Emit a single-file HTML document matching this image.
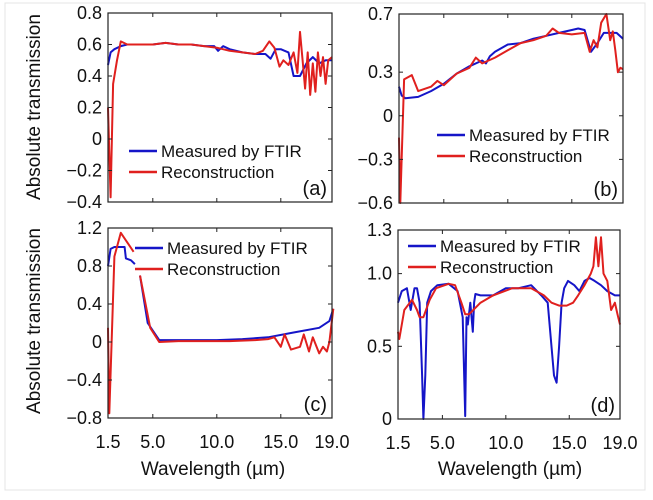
<!DOCTYPE html>
<html><head><meta charset="utf-8"><style>
body{margin:0;background:#fff;}
svg{display:block;font-family:"Liberation Sans",sans-serif;}
</style></head><body>
<svg id="fig" width="653" height="500" viewBox="0 0 653 500">
<rect x="5" y="3" width="640" height="487" fill="none" stroke="#e4e4e4"/>
</svg>
<script>
const xTicks=[1.5,5,10,15,19];
const xTickLabels=["1.5","5.0","10.0","15.0","19.0"];
// panel a
const aBlueX=[1.5,1.7,2,2.5,3,4,5,6,7,8,9,9.8,10.1,10.5,11,12,13,13.8,14.2,14.6,15,15.3,15.6,16,16.5,17,17.5,18,18.5,19];
const aBlueY=[0.47,0.55,0.57,0.59,0.60,0.60,0.60,0.61,0.60,0.60,0.59,0.59,0.56,0.59,0.57,0.55,0.54,0.54,0.51,0.57,0.57,0.56,0.55,0.40,0.40,0.48,0.52,0.48,0.50,0.50];
const aRedX=[1.5,1.7,1.9,2.2,2.5,3,4,5,6,7,8,9,10,11,12,13,13.6,14.1,14.5,14.9,15.2,15.6,16,16.3,16.5,16.7,16.9,17.1,17.3,17.5,17.7,17.9,18.1,18.3,18.5,18.7,19];
const aRedY=[0.2,-0.37,0.35,0.5,0.62,0.60,0.60,0.60,0.61,0.60,0.60,0.59,0.58,0.56,0.55,0.54,0.56,0.62,0.58,0.46,0.50,0.47,0.55,0.42,0.68,0.50,0.32,0.55,0.28,0.48,0.30,0.55,0.40,0.52,0.35,0.50,0.52];
// panel b
const bBlueX=[1.5,1.7,2,3,4,5,6,7,8,8.3,8.6,9,10,11,12,13,14,15,15.5,16,16.5,17,17.5,18,18.5,19];
const bBlueY=[0.2,0.14,0.12,0.13,0.17,0.22,0.29,0.34,0.38,0.36,0.41,0.44,0.49,0.50,0.53,0.55,0.57,0.59,0.60,0.59,0.44,0.50,0.57,0.57,0.57,0.53];
const bRedX=[1.5,1.6,1.9,2.5,3,4,4.5,5,6,7,7.5,8,9,10,11,12,13,13.5,14,15,16,16.4,16.7,17,17.3,17.7,18,18.2,18.4,18.6,18.8,19];
const bRedY=[-0.15,-0.6,0.25,0.28,0.17,0.2,0.24,0.21,0.29,0.33,0.4,0.36,0.4,0.45,0.5,0.52,0.55,0.6,0.57,0.56,0.57,0.44,0.52,0.47,0.64,0.7,0.52,0.58,0.45,0.3,0.33,0.32];
// panel c
const cBlueX=[1.5,1.7,2,2.8,2.9,3.3,3.6,null,4.0,4.6,5.5,8,10,12,14,16,18,18.8,19.1];
const cBlueY=[0.8,0.98,1.0,1.0,0.88,0.86,0.82,null,0.7,0.2,0.02,0.02,0.02,0.03,0.05,0.1,0.15,0.22,0.35];
const cRedX=[1.5,1.6,2,2.5,3,3.5,null,4.0,4.8,5.5,7,9,11,13,14,14.5,15,15.3,15.8,16.5,16.8,17.2,17.5,18,18.3,18.6,18.8,19.1];
const cRedY=[0.15,-0.75,0.9,1.15,1.05,0.95,null,0.7,0.15,0,0.01,0.01,0.01,0.02,0.03,0.05,-0.05,0.08,-0.08,-0.05,0.08,-0.1,0.05,-0.12,-0.05,-0.1,0,0.35];
// panel d
const dBlueX=[1.5,1.8,2.2,2.5,2.8,3.0,3.2,3.4,3.5,3.65,3.8,4.1,4.6,5.5,6.2,6.6,6.8,6.9,7.0,7.2,7.4,7.5,7.6,8,9,10,11,12,12.8,13.3,13.8,14.0,14.2,14.4,14.6,14.9,15.4,15.8,16.2,16.6,17,17.5,18,18.6,19];
const dBlueY=[0.8,0.88,0.9,0.75,0.9,0.9,0.8,0.3,0,0.3,0.8,0.88,0.92,0.93,0.88,0.7,0.02,0.7,0.65,0.8,0.6,0.8,0.86,0.85,0.85,0.9,0.9,0.92,0.85,0.8,0.3,0.25,0.5,0.8,0.9,0.95,0.92,0.88,0.95,0.97,0.95,0.92,0.88,0.85,0.85];
const dRedX=[1.5,1.6,2,2.6,3,3.2,3.5,4,4.5,5.5,6,6.5,6.8,7.1,8,9,10.5,12,13,13.6,14.2,14.8,15.3,15.7,16.2,16.7,16.9,17.1,17.3,17.5,17.7,18.0,18.3,18.6,18.8,19];
const dRedY=[0.6,0.55,0.75,0.82,0.75,0.7,0.7,0.82,0.9,0.93,0.92,0.8,0.72,0.72,0.8,0.85,0.9,0.9,0.85,0.8,0.78,0.78,0.8,0.85,0.92,1.0,1.05,1.25,1.05,1.25,1.0,0.95,0.75,0.8,0.72,0.65];

const NS="http://www.w3.org/2000/svg";
const svg=document.getElementById('fig');
function mk(tag,attrs,parent){const e=document.createElementNS(NS,tag);for(const k in attrs)e.setAttribute(k,attrs[k]);(parent||svg).appendChild(e);return e;}

function panel(p){
  const g=mk('g',{});
  
  
  const X=v=>p.x0+(v-1.5)/(19.0-1.5)*(p.x1-p.x0);
  const Y=v=>p.y1-(v-p.ymin)/(p.ymax-p.ymin)*(p.y1-p.y0);
  function line(xs,ys,color,name){
    let d='',pen=false;
    for(let i=0;i<xs.length;i++){
      if(xs[i]===null){pen=false;continue;}
      d+=(pen?'L':'M')+X(xs[i]).toFixed(1)+','+Y(ys[i]).toFixed(1);pen=true;
    }
    const pth=mk('path',{d:d,fill:'none',stroke:color,'stroke-width':2,'stroke-linejoin':'round'},g);
    
    
  }
  line(p.bx,p.by,'#1515c8','series-measured-'+p.id);
  line(p.rx,p.ry,'#e0201e','series-reconstruction-'+p.id);
  const box=mk('rect',{x:p.x0,y:p.y0,width:p.x1-p.x0,height:p.y1-p.y0,fill:'none',stroke:'#222','stroke-width':1.2},g);
  
  
  xTicks.forEach((t,i)=>{
    mk('line',{x1:X(t),x2:X(t),y1:p.y1,y2:p.y1-4,stroke:'#222'},g);
    mk('line',{x1:X(t),x2:X(t),y1:p.y0,y2:p.y0+4,stroke:'#222'},g);
    if(p.xlabels){
      const tx=mk('text',{x:X(t),y:p.y1+30,'font-size':18,'text-anchor':'middle',fill:'#111'},g);
      tx.textContent=xTickLabels[i];
      
      
    }
  });
  p.yt.forEach((t,i)=>{
    mk('line',{x1:p.x0,x2:p.x0+4,y1:Y(t),y2:Y(t),stroke:'#222'},g);
    mk('line',{x1:p.x1,x2:p.x1-4,y1:Y(t),y2:Y(t),stroke:'#222'},g);
    const tx=mk('text',{x:p.x0-6,y:Y(t)+6,'font-size':18,'text-anchor':'end',fill:'#111'},g);
    tx.textContent=p.ytl[i];
    
    
  });
  const L=p.leg;
  const l1=mk('line',{x1:L.x,x2:L.x+28,y1:L.y,y2:L.y,stroke:'#1515c8','stroke-width':2.5},g);
  
  
  const t1=mk('text',{x:L.x+32,y:L.y+6,'font-size':17,fill:'#111'},g);
  t1.textContent='Measured by FTIR';
  
  
  const l2=mk('line',{x1:L.x,x2:L.x+28,y1:L.y+21,y2:L.y+21,stroke:'#e0201e','stroke-width':2.5},g);
  
  
  const t2=mk('text',{x:L.x+32,y:L.y+27,'font-size':17,fill:'#111'},g);
  t2.textContent='Reconstruction';
  
  
  const pl=mk('text',{x:p.x1-5,y:p.y1-7,'font-size':20,'text-anchor':'end',fill:'#111'},g);
  pl.textContent='('+p.id+')';
  
  
}
panel({id:'a',x0:108,x1:332,y0:13,y1:202,ymin:-0.4,ymax:0.8,yt:[-0.4,-0.2,0,0.2,0.4,0.6,0.8],ytl:['\u22120.4','\u22120.2','0','0.2','0.4','0.6','0.8'],bx:aBlueX,by:aBlueY,rx:aRedX,ry:aRedY,leg:{x:129,y:151}});
panel({id:'b',x0:399,x1:623,y0:14,y1:203,ymin:-0.6,ymax:0.7,yt:[-0.6,-0.3,0,0.3,0.7],ytl:['\u22120.6','\u22120.3','0','0.3','0.7'],bx:bBlueX,by:bBlueY,rx:bRedX,ry:bRedY,leg:{x:437,y:135}});
panel({id:'c',x0:108,x1:332,y0:228,y1:418,ymin:-0.8,ymax:1.2,yt:[-0.8,-0.4,0,0.4,0.8,1.2],ytl:['\u22120.8','\u22120.4','0','0.4','0.8','1.2'],bx:cBlueX,by:cBlueY,rx:cRedX,ry:cRedY,leg:{x:135,y:248},xlabels:true});
panel({id:'d',x0:398,x1:620,y0:230,y1:419,ymin:0,ymax:1.3,yt:[0,0.5,1.0,1.3],ytl:['0','0.5','1.0','1.3'],bx:dBlueX,by:dBlueY,rx:dRedX,ry:dRedY,leg:{x:408,y:246},xlabels:true});
[[107,'y-axis-title-top'],[321,'y-axis-title-bottom']].forEach(([cy,n])=>{
  const t=mk('text',{x:0,y:0,'font-size':19,'text-anchor':'middle',fill:'#111',transform:'translate(40,'+cy+') rotate(-90)'});
  t.textContent='Absolute transmission';
  
  
});
[[213,'x-axis-title-left'],[510,'x-axis-title-right']].forEach(([cx,n])=>{
  const t=mk('text',{x:cx,y:475,'font-size':19,'text-anchor':'middle',fill:'#111'});
  t.textContent='Wavelength (\u00b5m)';
  
  
});
</script>
</body></html>
